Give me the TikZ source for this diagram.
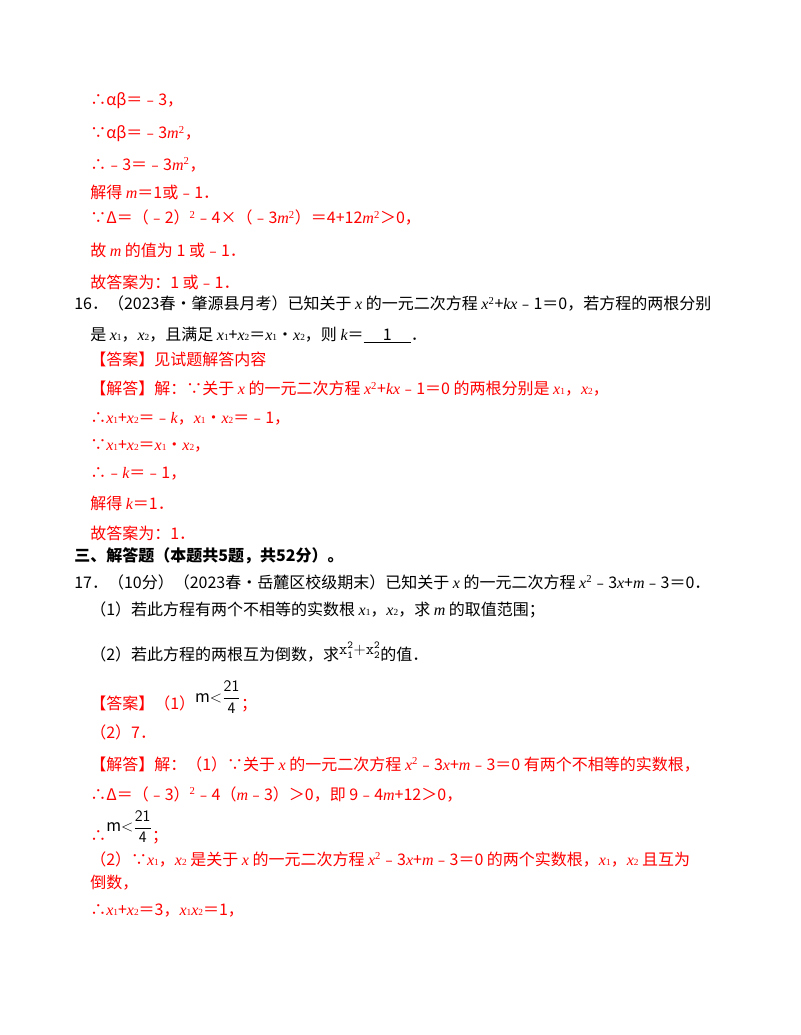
\documentclass[tikz,border=0pt]{standalone}
\usepackage{fontspec}
\setmainfont{Noto Sans CJK SC}
\newfontfamily\lat{Liberation Serif}
\usepackage{xcolor}
\definecolor{rd}{HTML}{FF0000}
\newcommand\vr[1]{{\lat\itshape #1}}
\newcommand\xs[1]{{\lat\itshape x}{\lat\scriptsize #1}}
\newcommand\mfr{{\color{black}$\mathrm{m}{<}\displaystyle\frac{\mathsf{21}}{\mathsf{4}}$}}
\newcommand\tx[4][black]{\node[anchor=west,inner sep=0,text=#1,font=\fontsize{12pt}{14pt}\selectfont] at (#2*0.75pt,-#3*0.75pt) {#4};}
\begin{document}
\begin{tikzpicture}
\useasboundingbox (0,0) rectangle (600pt,-776.25pt);
\tx[rd]{90}{101}{∴αβ＝﹣3，}
\tx[rd]{90}{134}{∵αβ＝﹣3\vr{m}\textsuperscript{\lat 2}，}
\tx[rd]{90}{165}{∴﹣3＝﹣3\vr{m}\textsuperscript{\lat 2}，}
\tx[rd]{90}{192}{解得 \vr{m}＝1或﹣1．}
\tx[rd]{90}{218}{∵Δ＝（﹣2）\textsuperscript{\lat 2}﹣4×（﹣3\vr{m}\textsuperscript{\lat 2}）＝4+12\vr{m}\textsuperscript{\lat 2}＞0，}
\tx[rd]{90}{250}{故 \vr{m} 的值为 1 或﹣1．}
\tx[rd]{90}{282}{故答案为：1 或﹣1．}
\tx{74}{304}{16．（2023春•肇源县月考）已知关于 \vr{x} 的一元二次方程 \vr{x}\textsuperscript{\lat 2}+\vr{kx}﹣1＝0，若方程的两根分别}
\tx{90}{335}{是 \xs{1}，\xs{2}，且满足 \xs{1}+\xs{2}＝\xs{1}•\xs{2}，则 \vr{k}＝\underline{\hspace{1.2em}1\hspace{1.2em}}．}
\tx[rd]{90}{359}{【答案】见试题解答内容}
\tx[rd]{90}{389}{【解答】解：∵关于 \vr{x} 的一元二次方程 \vr{x}\textsuperscript{\lat 2}+\vr{kx}﹣1＝0 的两根分别是 \xs{1}，\xs{2}，}
\tx[rd]{90}{419}{∴\xs{1}+\xs{2}＝﹣\vr{k}，\xs{1}•\xs{2}＝﹣1，}
\tx[rd]{90}{446}{∵\xs{1}+\xs{2}＝\xs{1}•\xs{2}，}
\tx[rd]{90}{474}{∴﹣\vr{k}＝﹣1，}
\tx[rd]{90}{503}{解得 \vr{k}＝1．}
\tx[rd]{90}{533}{故答案为：1．}
\tx{74}{556}{\bfseries 三、解答题（本题共5题，共52分）。}
\tx{74}{582}{17．（10分）（2023春•岳麓区校级期末）已知关于 \vr{x} 的一元二次方程 \vr{x}\textsuperscript{\lat 2}﹣3\vr{x}+\vr{m}﹣3＝0．}
\tx{90}{610}{（1）若此方程有两个不相等的实数根 \xs{1}，\xs{2}，求 \vr{m} 的取值范围；}
\tx{90}{652}{（2）若此方程的两根互为倒数，求\raisebox{4pt}{$\mathtt{x_1^2{+}x_2^2}$}的值．}
\tx[rd]{90}{697}{【答案】（1）\raisebox{5pt}{\mfr}；}
\tx[rd]{90}{732}{（2）7．}
\tx[rd]{90}{764}{【解答】解：（1）∵关于 \vr{x} 的一元二次方程 \vr{x}\textsuperscript{\lat 2}﹣3\vr{x}+\vr{m}﹣3＝0 有两个不相等的实数根，}
\tx[rd]{90}{794}{∴Δ＝（﹣3）\textsuperscript{\lat 2}﹣4（\vr{m}﹣3）＞0，即 9﹣4\vr{m}+12＞0，}
\tx[rd]{90}{827}{∴\raisebox{7pt}{\mfr}；}
\tx[rd]{90}{859}{（2）∵\xs{1}，\xs{2} 是关于 \vr{x} 的一元二次方程 \vr{x}\textsuperscript{\lat 2}﹣3\vr{x}+\vr{m}﹣3＝0 的两个实数根，\xs{1}，\xs{2} 且互为}
\tx[rd]{90}{883}{倒数，}
\tx[rd]{90}{911}{∴\xs{1}+\xs{2}＝3，\xs{1}\xs{2}＝1，}
\end{tikzpicture}
\end{document}
